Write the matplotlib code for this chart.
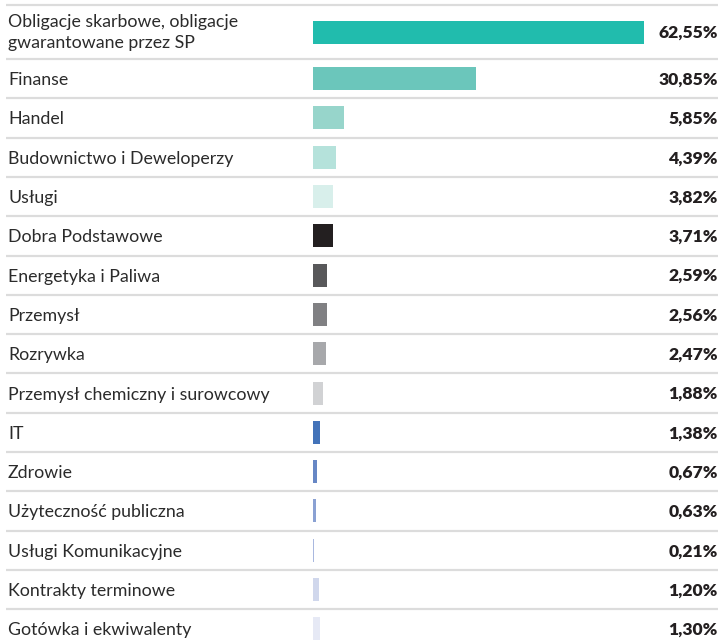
import matplotlib
matplotlib.use("Agg")
import matplotlib.pyplot as plt
import numpy as np

categories = [
    "Obligacje skarbowe, obligacje\ngwarantowane przez SP",
    "Finanse",
    "Handel",
    "Budownictwo i Deweloperzy",
    "Usługi",
    "Dobra Podstawowe",
    "Energetyka i Paliwa",
    "Przemysł",
    "Rozrywka",
    "Przemysł chemiczny i surowcowy",
    "IT",
    "Zdrowie",
    "Użyteczność publiczna",
    "Usługi Komunikacyjne",
    "Kontrakty terminowe",
    "Gotówka i ekwiwalenty",
]
values = [62.55, 30.85, 5.85, 4.39, 3.82, 3.71, 2.59, 2.56, 2.47, 1.88,
          1.38, 0.67, 0.63, 0.21, 1.20, 1.30]
value_labels = ["62,55%", "30,85%", "5,85%", "4,39%", "3,82%", "3,71%", "2,59%",
                "2,56%", "2,47%", "1,88%", "1,38%", "0,67%", "0,63%", "0,21%",
                "1,20%", "1,30%"]
colors = ["#21bcad", "#6bc6bb", "#97d5cb", "#b5e2db", "#d8efeb", "#231f20",
          "#58585a", "#808083", "#a7a8ab", "#d1d2d4", "#4373b9", "#6787c5",
          "#8aa1d3", "#a9b8df", "#d0d7ec", "#e6e9f5"]

W, H = 721, 642
fig = plt.figure(figsize=(W / 100, H / 100), dpi=100)
ax = fig.add_axes([0, 0, 1, 1])

# layout in pixel units
x0 = 313.0
scale = 331.0 / 62.55
ax.set_xlim(-x0 / scale, (W - x0) / scale)
ax.set_ylim(H, 0)
ax.axis("off")

first_h = 54.0
row_h = 39.3
top = 5.0
bounds = [top, top + first_h]
for i in range(len(categories) - 1):
    bounds.append(bounds[-1] + row_h)
bounds = np.array(bounds)
centers = (bounds[:-1] + bounds[1:]) / 2

ax.barh(centers, values, height=23, left=0, color=colors, zorder=2)

def px2x(px):
    return (px - x0) / scale

for b in bounds[:-1]:
    ax.plot([px2x(6), px2x(718)], [b, b], color="#dcdcdc", lw=1.6,
            solid_capstyle="butt", zorder=1)

for i, (c, lab, vl) in enumerate(zip(centers, categories, value_labels)):
    dy = 0.5 if i == 0 else 1.5
    ax.text(px2x(8), c + dy, lab, ha="left", va="center", fontsize=12.8,
            family="Lato", color="#2b2b2b", linespacing=1.33)
    ax.text(px2x(718), c + 1.0, vl, ha="right", va="center", fontsize=12.6,
            family="Lato", fontweight="heavy", color="#231f20")

fig.savefig("out.png", dpi=100)
